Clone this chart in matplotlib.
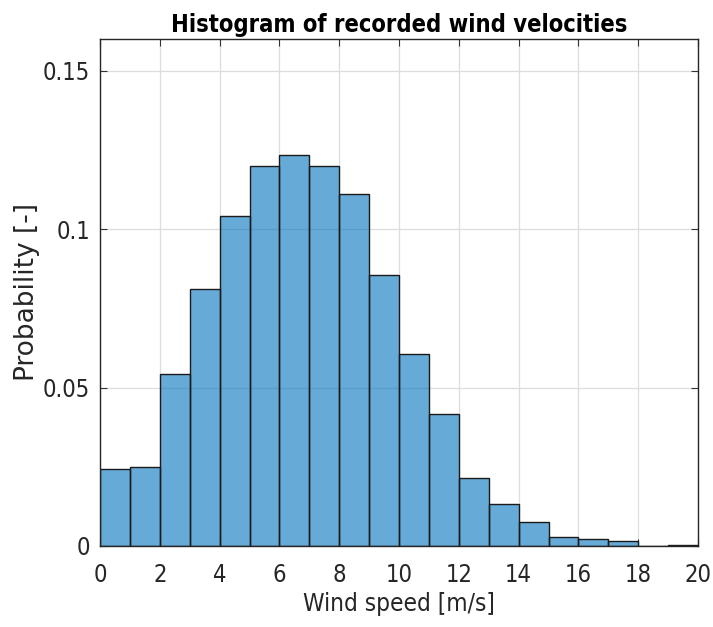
import matplotlib.pyplot as plt
import numpy as np

# histogram of recorded wind speeds, 1 m/s bins
bin_edges = np.arange(0, 21, 1)
probability = [0.0243, 0.0249, 0.0543, 0.0810, 0.1040, 0.1200, 0.1235, 0.1200,
               0.1110, 0.0856, 0.0606, 0.0417, 0.0215, 0.0133, 0.0076, 0.0028,
               0.0022, 0.0016, 0.0001, 0.0003]

xticks = np.arange(0, 21, 2)
yticks = [0, 0.05, 0.1, 0.15]
yticklabels = ["0", "0.05", "0.1", "0.15"]

plt.rcParams["font.family"] = ["DejaVu Sans"]
plt.rcParams["font.stretch"] = "condensed"

fig = plt.figure(figsize=(7.13, 6.27), dpi=100)
ax = fig.add_axes([0.1403, 0.1292, 0.9790 - 0.1403, 0.9378 - 0.1292])

ax.grid(True, color="#dddddd", linewidth=0.9)
ax.set_axisbelow(True)

# MATLAB-like translucent face, dark edges
ax.bar(bin_edges[:-1], probability, width=1.0, align="edge",
       color=(0.0, 0.447, 0.741), alpha=0.6, edgecolor="none")
ax.bar(bin_edges[:-1], probability, width=1.0, align="edge",
       color="none", edgecolor="#1a1a1a", linewidth=1.0)

ax.set_xlim(0, 20)
ax.set_ylim(0, 0.16)
ax.set_xticks(xticks)
ax.set_yticks(yticks, labels=yticklabels)
ax.tick_params(direction="in", top=True, right=True, labelsize=17, length=5,
               color="#333333", labelcolor="#262626")
ax.tick_params(axis="x", pad=12)
ax.tick_params(axis="y", pad=7)
for s in ax.spines.values():
    s.set_color("#262626")
    s.set_linewidth(1.0)

ax.set_xlabel("Wind speed [m/s]", fontsize=17.5, color="#262626", labelpad=4)
ax.set_ylabel("Probability [-]", fontsize=19, fontstretch="normal",
              color="#262626", labelpad=2)
ax.set_title("Histogram of recorded wind velocities", fontsize=17,
             fontweight="bold", color="black", pad=5)

fig.savefig("out.png", dpi=100)
